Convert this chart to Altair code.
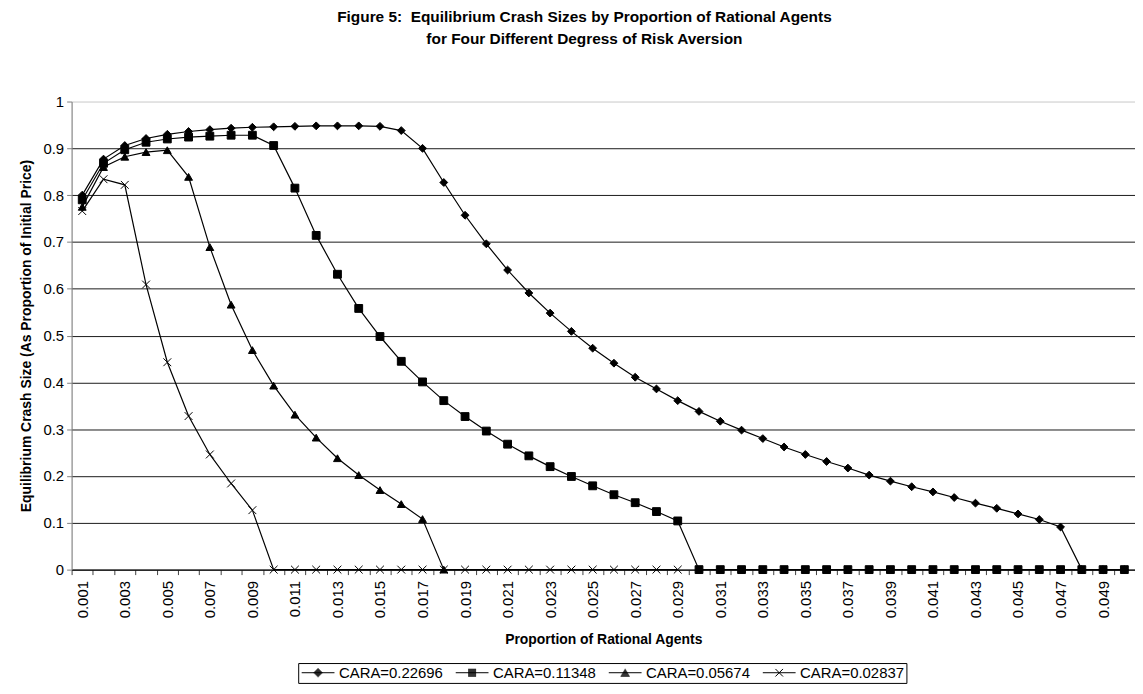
import altair as alt
import pandas as pd

FONT = "Liberation Sans"

proportion = [
    "0.001", "0.002", "0.003", "0.004", "0.005", "0.006", "0.007", "0.008", "0.009", "0.010",
    "0.011", "0.012", "0.013", "0.014", "0.015", "0.016", "0.017", "0.018", "0.019", "0.020",
    "0.021", "0.022", "0.023", "0.024", "0.025", "0.026", "0.027", "0.028", "0.029", "0.030",
    "0.031", "0.032", "0.033", "0.034", "0.035", "0.036", "0.037", "0.038", "0.039", "0.040",
    "0.041", "0.042", "0.043", "0.044", "0.045", "0.046", "0.047", "0.048", "0.049", "0.050",
]

series_names = ["CARA=0.22696", "CARA=0.11348", "CARA=0.05674", "CARA=0.02837"]

cara_22696 = [
    0.800, 0.877, 0.906, 0.921, 0.930, 0.936, 0.940, 0.943, 0.945, 0.946,
    0.947, 0.948, 0.948, 0.948, 0.947, 0.938, 0.900, 0.827, 0.757, 0.696,
    0.640, 0.591, 0.548, 0.509, 0.473, 0.441, 0.411, 0.386, 0.361, 0.338,
    0.317, 0.298, 0.280, 0.262, 0.246, 0.231, 0.217, 0.202, 0.189, 0.177,
    0.166, 0.154, 0.142, 0.131, 0.119, 0.107, 0.091, 0.0, 0.0, 0.0,
]
cara_11348 = [
    0.790, 0.868, 0.897, 0.913, 0.920, 0.924, 0.926, 0.928, 0.928, 0.906,
    0.815, 0.714, 0.631, 0.558, 0.498, 0.445, 0.401, 0.361, 0.327, 0.296,
    0.268, 0.243, 0.220, 0.199, 0.179, 0.160, 0.143, 0.124, 0.104, 0.0,
    0.0, 0.0, 0.0, 0.0, 0.0, 0.0, 0.0, 0.0, 0.0, 0.0,
    0.0, 0.0, 0.0, 0.0, 0.0, 0.0, 0.0, 0.0, 0.0, 0.0,
]
cara_05674 = [
    0.775, 0.860, 0.882, 0.892, 0.896, 0.839, 0.689, 0.566, 0.469, 0.393,
    0.331, 0.282, 0.238, 0.202, 0.170, 0.140, 0.108, 0.0, None, None,
    None, None, None, None, None, None, None, None, None, None,
    None, None, None, None, None, None, None, None, None, None,
    None, None, None, None, None, None, None, None, None, None,
]
cara_02837 = [
    0.766, 0.834, 0.822, 0.609, 0.443, 0.328, 0.246, 0.184, 0.127, 0.0,
    0.0, 0.0, 0.0, 0.0, 0.0, 0.0, 0.0, 0.0, 0.0, 0.0,
    0.0, 0.0, 0.0, 0.0, 0.0, 0.0, 0.0, 0.0, 0.0, None,
    None, None, None, None, None, None, None, None, None, None,
    None, None, None, None, None, None, None, None, None, None,
]

y_ticks = [0, 0.1, 0.2, 0.3, 0.4, 0.5, 0.6, 0.7, 0.8, 0.9, 1.0]

rows = []
for name, vals in zip(series_names, [cara_22696, cara_11348, cara_05674, cara_02837]):
    for p, v in zip(proportion, vals):
        if v is not None:
            rows.append({"p": p, "v": v, "series": name})
df = pd.DataFrame(rows)
df["idx"] = range(len(df))

X_PATH = "M-1,-1L1,1M-1,1L1,-1"
marker_shapes = ["diamond", "square", "triangle-up", X_PATH]

# ---- legend glyphs: short line with a solid marker drawn from strokes (unit = 6px)
U = 6.0
CX = 10.5  # marker centre in px, relative to symbol centre


def _seg(x1, y1, x2, y2):
    return f"M{x1 / U:.3f},{y1 / U:.3f}L{x2 / U:.3f},{y2 / U:.3f}"


def _glyph(kind):
    parts = [_seg(-6, 0, 27, 0)]
    if kind == "diamond":
        for k in range(-4, 5):
            hw = 4.6 - abs(k)
            parts.append(_seg(CX - hw, k, CX + hw, k))
    elif kind == "square":
        for k in range(8):
            yy = -3.5 + k
            parts.append(_seg(CX - 4, yy, CX + 4, yy))
    elif kind == "triangle":
        for k in range(8):
            yy = -3.5 + k
            hw = 4.6 * (yy + 4.2) / 7.7
            parts.append(_seg(CX - hw, yy, CX + hw, yy))
    else:
        parts.append(_seg(CX - 3.8, -3.8, CX + 3.8, 3.8))
        parts.append(_seg(CX - 3.8, 3.8, CX + 3.8, -3.8))
    return "".join(parts)


legend_shapes = [_glyph("diamond"), _glyph("square"), _glyph("triangle"), _glyph("x")]

W = 1070
H = 471

x_enc = alt.X(
    "p:N",
    sort=proportion,
    bandPosition=0.5,
    scale=alt.Scale(type="band", domain=proportion, paddingInner=0, paddingOuter=0),
    axis=alt.Axis(
        title="Proportion of Rational Agents",
        titleFont=FONT, titleFontSize=14, titleFontWeight="bold", titleColor="black",
        titlePadding=15,
        labelFont=FONT, labelFontSize=15, labelColor="black", labelAngle=-90,
        labelExpr="round(toNumber(datum.value)*1000) % 2 == 1 ? datum.value : ''",
        labelPadding=6,
        tickBand="extent", tickColor="#404040", tickSize=5,
        domainColor="black", domainWidth=1,
        grid=False,
    ),
)
y_enc = alt.Y(
    "v:Q",
    scale=alt.Scale(domain=[0, 1], nice=False, zero=True),
    axis=alt.Axis(
        title="Equilibrium Crash Size (As Proportion of Initial Price)",
        titleFont=FONT, titleFontSize=14, titleFontWeight="bold", titleColor="black",
        titlePadding=10,
        labelFont=FONT, labelFontSize=15, labelColor="black", labelPadding=3,
        values=y_ticks, format=".1~f",
        tickColor="#808080", tickSize=5,
        domainColor="#808080", domainWidth=1,
        grid=True,
        gridColor={"condition": {"test": "datum.value >= 1", "value": "#d9d9d9"}, "value": "#1a1a1a"},
        gridWidth=1,
    ),
)

base = alt.Chart(df)

lines = base.mark_line(color="black", strokeWidth=1.2).encode(
    x=x_enc,
    y=y_enc,
    detail="series:N",
    order="idx:Q",
)

points = base.mark_point(
    filled=True, color="black", stroke="black", strokeWidth=1, size=62, opacity=1
).encode(
    x=x_enc,
    y=y_enc,
    shape=alt.Shape(
        "series:N",
        scale=alt.Scale(domain=series_names, range=marker_shapes),
        legend=None,
    ),
)

legend_layer = base.transform_filter("false").mark_point(
    filled=False, color="black", strokeWidth=1, opacity=1
).encode(
    x=x_enc,
    y=y_enc,
    shape=alt.Shape(
        "series:N",
        scale=alt.Scale(domain=series_names, range=legend_shapes),
        legend=alt.Legend(
            title=None,
            orient="none",
            legendX=228,
            legendY=565,
            direction="horizontal",
            symbolSize=144,
            symbolStrokeWidth=1,
            symbolStrokeColor="black",
            labelFont=FONT,
            labelFontSize=15,
            labelColor="black",
            labelOffset=24,
            columnPadding=10,
            padding=2,
            strokeColor="black",
            fillColor="white",
        ),
    ),
)

chart = (
    alt.layer(lines, points, legend_layer)
    .resolve_scale(shape="independent")
    .properties(
        width=W,
        height=H,
        padding={"left": 64, "top": 92, "right": 0, "bottom": 115},
        autosize=alt.AutoSizeParams(type="none"),
        title=alt.TitleParams(
            text=[
                "Figure 5:\u00a0 Equilibrium Crash Sizes by Proportion of Rational Agents",
                "for Four Different Degress of Risk Aversion",
            ],
            font=FONT,
            fontSize=15.5,
            fontWeight="bold",
            color="black",
            anchor="middle",
            offset=47,
            dx=-19,
            lineHeight=23,
        ),
    )
    .configure_view(stroke=None)
    .configure(background="white")
)

chart.save("out.html", embed_options={"renderer": "svg", "actions": False})
